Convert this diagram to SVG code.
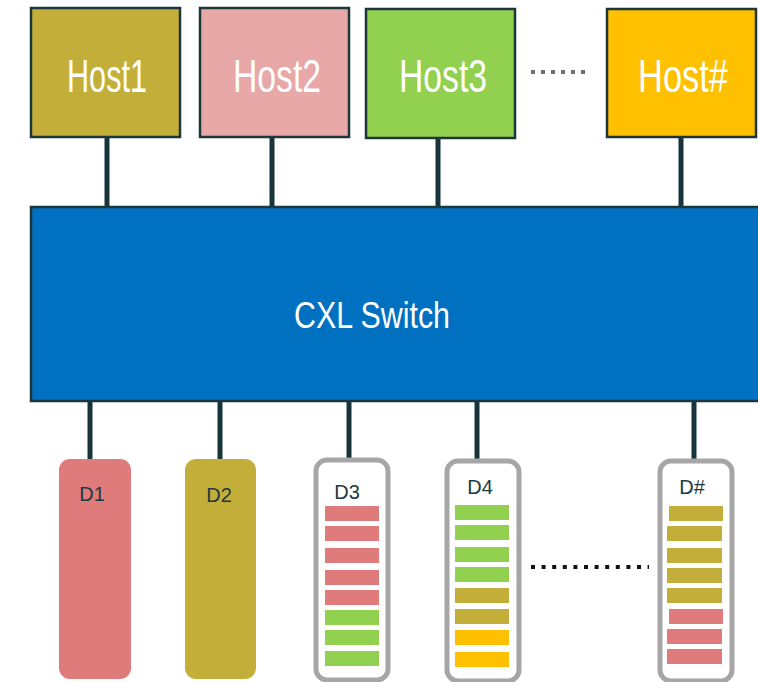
<svg xmlns="http://www.w3.org/2000/svg" width="758" height="682" viewBox="0 0 758 682">
<style>
.host{stroke:#1c363a;stroke-width:2.5}
.ht{font-family:"Liberation Sans",Arial,sans-serif;font-size:46px;fill:#fff;text-anchor:middle}
.link{stroke:#17343a;stroke-width:5;fill:none}
.dev{stroke:#a6a6a6;stroke-width:5;fill:#fff}
.dl{font-family:"Liberation Sans",Arial,sans-serif;font-size:20px;fill:#1b3a40}
.r{fill:#e07b7b}.g{fill:#92d050}.o{fill:#c4ae3a}.y{fill:#ffc000}
</style>
<rect width="758" height="682" fill="#fff"/>
<g id="connectors">
<line class="link" x1="107" y1="137" x2="107" y2="207"/>
<line class="link" x1="272" y1="134" x2="272" y2="207"/>
<line class="link" x1="438" y1="134" x2="438" y2="207"/>
<line class="link" x1="681" y1="137" x2="681" y2="207"/>
<line class="link" x1="90" y1="401" x2="90" y2="462"/>
<line class="link" x1="220" y1="401" x2="220" y2="461"/>
<line class="link" x1="349" y1="401" x2="349" y2="461"/>
<line class="link" x1="477" y1="401" x2="477" y2="461"/>
<line class="link" x1="694" y1="401" x2="694" y2="460"/>
</g>
<g id="host1"><rect class="host" x="31" y="8" width="149" height="129" fill="#c4ae3a"/><text class="ht" x="107" y="92" textLength="80" lengthAdjust="spacingAndGlyphs">Host1</text></g>
<g id="host2"><rect class="host" x="200" y="8" width="149" height="129" fill="#e8a8a8"/><text class="ht" x="277" y="92" textLength="88" lengthAdjust="spacingAndGlyphs">Host2</text></g>
<g id="host3"><rect class="host" x="366" y="9" width="149" height="129" fill="#92d050"/><text class="ht" x="443" y="92" textLength="88" lengthAdjust="spacingAndGlyphs">Host3</text></g>
<g id="hostN"><rect class="host" x="607" y="9" width="149" height="128" fill="#ffc000"/><text class="ht" x="683" y="92" textLength="90" lengthAdjust="spacingAndGlyphs">Host#</text></g>
<line x1="531" y1="72" x2="590" y2="72" stroke="#6f6f7a" stroke-width="4" stroke-dasharray="4 6"/>
<g id="switch"><rect x="31" y="207" width="740" height="194" fill="#0070c0" stroke="#1c363a" stroke-width="2.5"/><text x="372" y="328" font-family="Liberation Sans,Arial,sans-serif" font-size="37" fill="#fff" text-anchor="middle" textLength="156" lengthAdjust="spacingAndGlyphs">CXL Switch</text></g>
<g id="D1"><rect x="59" y="459" width="72" height="220" rx="11" class="r"/><text class="dl" x="92" y="501" text-anchor="middle">D1</text></g>
<g id="D2"><rect x="185" y="459" width="71" height="220" rx="11" class="o"/><text class="dl" x="219" y="502" text-anchor="middle">D2</text></g>
<g id="D3"><rect class="dev" x="316" y="460" width="72" height="220" rx="11"/><text class="dl" x="347" y="499" text-anchor="middle">D3</text>
<rect class="r" x="325" y="506" width="54" height="15"/><rect class="r" x="325" y="526" width="54" height="15"/><rect class="r" x="325" y="548" width="54" height="15"/><rect class="r" x="325" y="570" width="54" height="15"/><rect class="r" x="325" y="590" width="54" height="15"/><rect class="g" x="325" y="610" width="54" height="15"/><rect class="g" x="325" y="630" width="54" height="15"/><rect class="g" x="325" y="651" width="54" height="15"/></g>
<g id="D4"><rect class="dev" x="447" y="461" width="72" height="220" rx="11"/><text class="dl" x="480" y="494" text-anchor="middle">D4</text>
<rect class="g" x="455" y="505" width="54" height="15"/><rect class="g" x="455" y="525" width="54" height="15"/><rect class="g" x="455" y="547" width="54" height="15"/><rect class="g" x="455" y="567" width="54" height="15"/><rect class="o" x="455" y="588" width="54" height="15"/><rect class="o" x="455" y="609" width="54" height="15"/><rect class="y" x="455" y="630" width="54" height="15"/><rect class="y" x="455" y="652" width="54" height="15"/></g>
<line x1="531" y1="567" x2="649" y2="567" stroke="#111" stroke-width="4" stroke-dasharray="4 6.6"/>
<g id="DN"><rect class="dev" x="660" y="461" width="72" height="220" rx="11"/><text class="dl" x="692" y="494" text-anchor="middle">D#</text>
<rect class="o" x="669" y="506" width="54" height="15"/><rect class="o" x="667" y="526" width="55" height="15"/><rect class="o" x="667" y="548" width="55" height="15"/><rect class="o" x="667" y="568" width="55" height="15"/><rect class="o" x="667" y="588" width="55" height="15"/><rect class="r" x="669" y="609" width="54" height="15"/><rect class="r" x="667" y="629" width="55" height="15"/><rect class="r" x="667" y="649" width="55" height="15"/></g>
</svg>
